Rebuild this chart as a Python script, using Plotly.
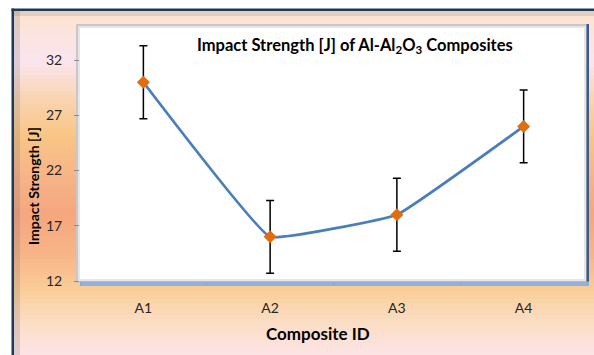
import plotly.graph_objects as go

categories = ["A1", "A2", "A3", "A4"]
impact_strength = [30.0, 16.0, 18.0, 26.0]
error_values = [3.3, 3.3, 3.3, 3.3]
y_tick_values = [12, 17, 22, 27, 32]

W, H = 594, 355
L, R, T, B = 80, 587, 27, 281  # plot area in pixels


def px(x):
    return (x - L) / (R - L)


def py(y):
    return (B - y) / (B - T)


def hexrgb(h):
    h = h.lstrip("#")
    return tuple(int(h[i:i + 2], 16) for i in (0, 2, 4))


stops = [
    (11, "#FCE3CC"), (40, "#FBE4E4"), (62, "#FAE5EE"), (95, "#F9D6B6"),
    (135, "#F9C686"), (175, "#F7B488"), (215, "#F5A67E"), (255, "#F7B588"),
    (290, "#FACD98"), (320, "#FBDDC2"), (355, "#FCE4E6"),
]


def color_at(y):
    for (y0, c0), (y1, c1) in zip(stops[:-1], stops[1:]):
        if y0 <= y <= y1:
            t = (y - y0) / (y1 - y0)
            a, b = hexrgb(c0), hexrgb(c1)
            return "rgb(%d,%d,%d)" % tuple(round(a[i] + (b[i] - a[i]) * t) for i in range(3))
    return stops[-1][1]


shapes = []
# gradient background bands
step = 4
yy = 11
while yy < H:
    y2 = min(yy + step, H)
    shapes.append(dict(type="rect", xref="paper", yref="paper", layer="below",
                       x0=px(14), x1=px(W + 5), y0=py(yy), y1=py(y2 + 0.5),
                       fillcolor=color_at(yy + step / 2), line=dict(width=0)))
    yy = y2
# outer frame (navy lines with soft shadow)
shapes.append(dict(type="rect", xref="paper", yref="paper", layer="below",
                   x0=px(14), x1=px(20), y0=py(11), y1=py(H + 5),
                   fillcolor="rgba(90,90,110,0.18)", line=dict(width=0)))
shapes.append(dict(type="rect", xref="paper", yref="paper", layer="below",
                   x0=px(14), x1=px(W + 5), y0=py(11), y1=py(16),
                   fillcolor="rgba(90,90,110,0.15)", line=dict(width=0)))
shapes.append(dict(type="rect", xref="paper", yref="paper", layer="below",
                   x0=px(11.5), x1=px(14), y0=py(8.5), y1=py(H + 5),
                   fillcolor="#1E3856", line=dict(width=0)))
shapes.append(dict(type="rect", xref="paper", yref="paper", layer="below",
                   x0=px(11.5), x1=px(W + 5), y0=py(8.5), y1=py(11),
                   fillcolor="#1E3856", line=dict(width=0)))
# plot area shadow / frame
shapes.append(dict(type="rect", xref="paper", yref="paper", layer="below",
                   x0=px(76), x1=px(589), y0=py(24), y1=py(283),
                   fillcolor="#C8C8C8", line=dict(width=0)))
shapes.append(dict(type="rect", xref="paper", yref="paper", layer="below",
                   x0=px(78), x1=px(586), y0=py(26), y1=py(281),
                   fillcolor="#E6E6E6", line=dict(width=0)))
shapes.append(dict(type="rect", xref="paper", yref="paper", layer="below",
                   x0=px(80), x1=px(584), y0=py(28), y1=py(279),
                   fillcolor="#FFFFFF", line=dict(width=0)))
shapes.append(dict(type="rect", xref="paper", yref="paper", layer="below",
                   x0=px(586.5), x1=px(589), y0=py(24), y1=py(286),
                   fillcolor="#3B5C8A", line=dict(width=0)))
shapes.append(dict(type="rect", xref="paper", yref="paper", layer="below",
                   x0=px(80), x1=px(589), y0=py(281.5), y1=py(286),
                   fillcolor="#93B0DA", line=dict(width=0)))

fig = go.Figure()
fig.add_trace(go.Scatter(
    x=categories, y=impact_strength,
    mode="lines+markers",
    line=dict(color="#4A7EBB", width=2.75, shape="spline", smoothing=0.25),
    marker=dict(symbol="diamond", size=10, color="#E46C0A",
                line=dict(color="#E46C0A", width=0)),
    error_y=dict(type="data", array=error_values, visible=True,
                 color="#000000", thickness=1.5, width=4),
    showlegend=False,
))

fig.update_layout(
    width=W, height=H,
    margin=dict(l=L, r=W - R, t=T, b=H - B),
    paper_bgcolor="#FFFFFF",
    plot_bgcolor="rgba(0,0,0,0)",
    shapes=shapes,
    font=dict(family="Lato, Open Sans, sans-serif", color="#262626"),
    annotations=[
        dict(text="<b>Impact Strength [J] of Al-Al<sub>2</sub>O<sub>3</sub> Composites</b>",
             xref="paper", yref="paper", x=px(355), y=py(45),
             showarrow=False, font=dict(size=16.5, color="#000000"),
             xanchor="center", yanchor="middle"),
        dict(text="<b>Impact Strength [J]</b>", textangle=-90,
             xref="paper", yref="paper", x=px(33), y=py(186),
             showarrow=False, font=dict(size=14, color="#000000"),
             xanchor="center", yanchor="middle"),
        dict(text="<b>Composite ID</b>",
             xref="paper", yref="paper", x=px(318), y=py(333),
             showarrow=False, font=dict(size=17, color="#000000"),
             xanchor="center", yanchor="middle"),
    ],
)

fig.update_xaxes(
    type="category", range=[-0.5, 3.5],
    showgrid=False, zeroline=False, showline=False,
    ticks="outside", tickson="boundaries", ticklen=4, tickcolor="#8EA6C8",
    tickfont=dict(size=14, color="#262626"), ticklabelstandoff=17,
)
fig.update_yaxes(
    range=[12, 35], tickvals=y_tick_values,
    showgrid=False, zeroline=False, showline=False,
    ticks="outside", ticklen=5, tickcolor="#8C8C8C",
    tickfont=dict(size=14, color="#262626"), ticklabelstandoff=9,
)

fig.write_html(
    "out.html",
    config={"displayModeBar": False},
    post_script="document.body.style.margin='0';document.body.style.padding='0';"
                "document.body.style.overflow='hidden';",
)
